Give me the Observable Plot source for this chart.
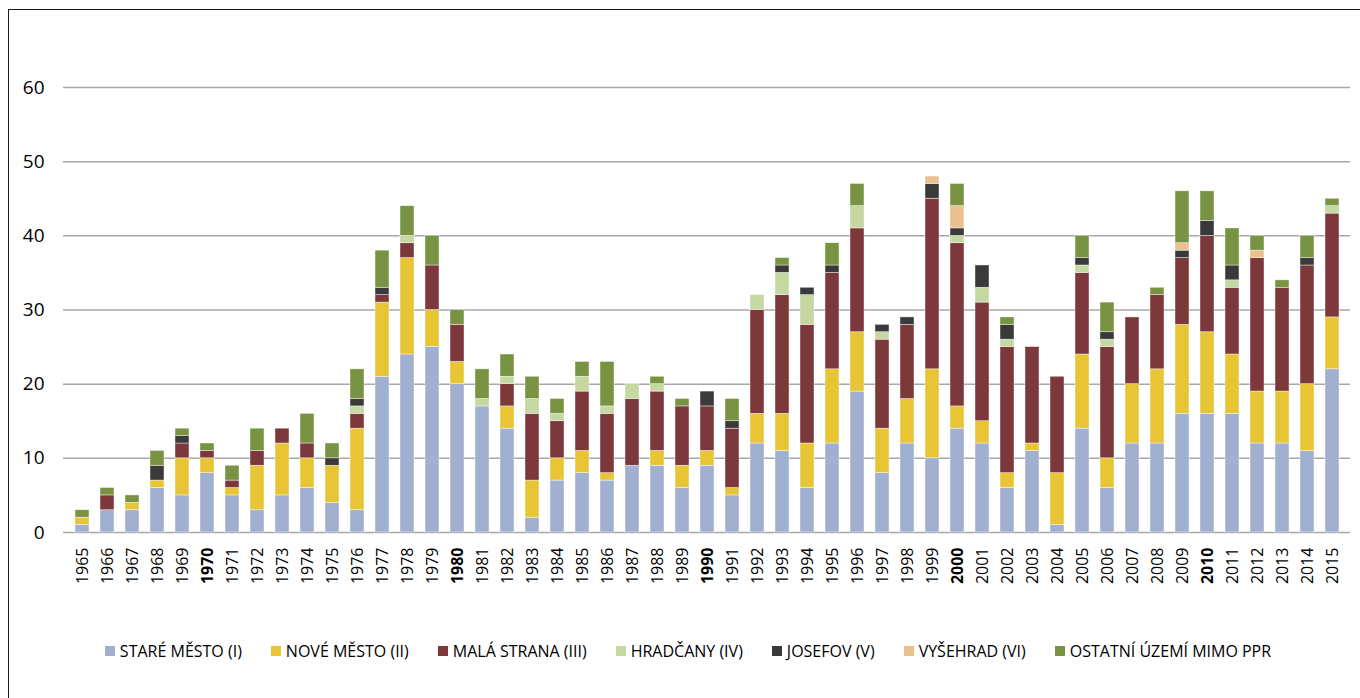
<!DOCTYPE html>
<html>
<head>
<meta charset="utf-8">
<script src="https://cdn.jsdelivr.net/npm/d3@7"></script>
<script src="https://cdn.jsdelivr.net/npm/@observablehq/plot@0.6"></script>
<style>
  html, body { margin: 0; padding: 0; background: #fff; overflow: hidden; width: 1360px; height: 698px; }
  #frame { position: absolute; left: 8px; top: 9px; width: 1400px; height: 800px;
           border-left: 1.5px solid #1a1a1a; border-top: 1.5px solid #1a1a1a; box-sizing: border-box; }
  #chart { position: absolute; left: 0; top: 0; }
  #legend { position: absolute; left: 0; top: 640px; width: 1376px; display: flex; justify-content: center;
            gap: 29px; font-family: "Open Sans", sans-serif; font-size: 16px; color: #000; }
  .item { display: flex; align-items: center; white-space: nowrap; }
  .sw { width: 10px; height: 10px; margin-right: 5px; display: inline-block; }
</style>
</head>
<body>
<div id="frame"></div>
<div id="chart"></div>
<div id="legend"></div>
<script>
const years = [1965,1966,1967,1968,1969,1970,1971,1972,1973,1974,1975,1976,1977,1978,1979,1980,1981,1982,1983,1984,1985,1986,1987,1988,1989,1990,1991,1992,1993,1994,1995,1996,1997,1998,1999,2000,2001,2002,2003,2004,2005,2006,2007,2008,2009,2010,2011,2012,2013,2014,2015];
const boldYears = [1970,1980,1990,2000,2010];
const yTicks = [0,10,20,30,40,50,60];

const seriesNames = ["STARÉ MĚSTO (I)","NOVÉ MĚSTO (II)","MALÁ STRANA (III)","HRADČANY (IV)","JOSEFOV (V)","VYŠEHRAD (VI)","OSTATNÍ ÚZEMÍ MIMO PPR"];
const seriesColors = ["#a1b0d1","#e8c535","#7d383b","#c5d8a1","#3a3a3a","#ecc190","#789443"];

const stareMesto = [1,3,3,6,5,8,5,3,5,6,4,3,21,24,25,20,17,14,2,7,8,7,9,9,6,9,5,12,11,6,12,19,8,12,10,14,12,6,11,1,14,6,12,12,16,16,16,12,12,11,22];
const noveMesto  = [1,0,1,1,5,2,1,6,7,4,5,11,10,13,5,3,0,3,5,3,3,1,0,2,3,2,1,4,5,6,10,8,6,6,12,3,3,2,1,7,10,4,8,10,12,11,8,7,7,9,7];
const malaStrana = [0,2,0,0,2,1,1,2,2,2,0,2,1,2,6,5,0,3,9,5,8,8,9,8,8,6,8,14,16,16,13,14,12,10,23,22,16,17,13,13,11,15,9,10,9,13,9,18,14,16,14];
const hradcany   = [0,0,0,0,0,0,0,0,0,0,0,1,0,1,0,0,1,1,2,1,2,1,2,1,0,0,0,2,3,4,0,3,1,0,0,1,2,1,0,0,1,1,0,0,0,0,1,0,0,0,1];
const josefov    = [0,0,0,2,1,0,0,0,0,0,1,1,1,0,0,0,0,0,0,0,0,0,0,0,0,2,1,0,1,1,1,0,1,1,2,1,3,2,0,0,1,1,0,0,1,2,2,0,0,1,0];
const vysehrad   = [0,0,0,0,0,0,0,0,0,0,0,0,0,0,0,0,0,0,0,0,0,0,0,0,0,0,0,0,0,0,0,0,0,0,1,3,0,0,0,0,0,0,0,0,1,0,0,1,0,0,0];
const ostatni    = [1,1,1,2,1,1,2,3,0,4,2,4,5,4,4,2,4,3,3,2,2,6,0,1,1,0,3,0,1,0,3,3,0,0,0,3,0,1,0,0,3,4,0,1,7,4,5,2,1,3,1];

const seriesValues = [stareMesto, noveMesto, malaStrana, hradcany, josefov, vysehrad, ostatni];

const data = [];
years.forEach((yr, i) => {
  seriesNames.forEach((s, j) => {
    const v = seriesValues[j][i];
    if (v > 0) data.push({year: String(yr), series: s, value: v});
  });
});

const normalYears = years.filter(y => !boldYears.includes(y)).map(String);
const bYears = boldYears.map(String);

const chart = Plot.plot({
  width: 1360,
  height: 600,
  marginTop: 87,
  marginBottom: 68,
  marginLeft: 63,
  marginRight: 10,
  style: {fontFamily: "'Open Sans', sans-serif", color: "#000", background: "transparent"},
  x: {domain: years.map(String), paddingInner: 0.445, paddingOuter: 0.2225, axis: null, label: null},
  y: {domain: [0, 60], axis: null, label: null},
  color: {domain: seriesNames, range: seriesColors},
  marks: [
    Plot.gridY(yTicks, {stroke: "#a8a8a8", strokeOpacity: 1, strokeWidth: 1.5}),
    Plot.barY(data, Plot.stackY({
      x: "year", y: "value", z: "series", fill: "series",
      order: seriesNames,
      stroke: "#ffffff", strokeWidth: 0.6, strokeOpacity: 0.7
    })),
    Plot.axisY(yTicks, {tickSize: 0, tickPadding: 19, fontSize: 19, fill: "#000", label: null}),
    Plot.axisX(normalYears, {tickSize: 0, tickPadding: 15, tickRotate: -90, fontSize: 16, fill: "#000", label: null}),
    Plot.axisX(bYears, {tickSize: 0, tickPadding: 15, tickRotate: -90, fontSize: 16, fontWeight: "bold", fill: "#000", label: null})
  ]
});
document.getElementById("chart").appendChild(chart);

const legend = document.getElementById("legend");
seriesNames.forEach((s, j) => {
  const it = document.createElement("div");
  it.className = "item";
  const sw = document.createElement("span");
  sw.className = "sw";
  sw.style.background = seriesColors[j];
  const tx = document.createElement("span");
  tx.textContent = s;
  it.appendChild(sw);
  it.appendChild(tx);
  legend.appendChild(it);
});
</script>
</body>
</html>
